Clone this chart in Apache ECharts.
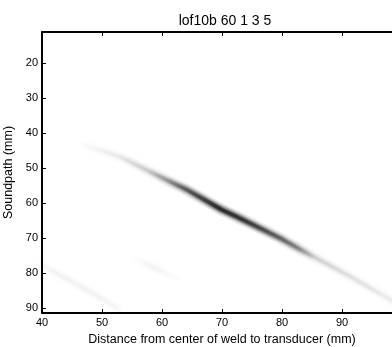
<!DOCTYPE html>
<html><head><meta charset="utf-8">
<script src="https://cdn.jsdelivr.net/npm/echarts@6/dist/echarts.min.js"></script>
<style>html,body{margin:0;padding:0;background:#fff}#c{width:392px;height:347px}</style>
</head><body><div id="c"></div>
<script>
var titleText = 'lof10b 60 1 3 5';
var xName = 'Distance from center of weld to transducer (mm)';
var yName = 'Soundpath (mm)';
var xTicks = [40, 50, 60, 70, 80, 90, 100];
var yTicks = [20, 30, 40, 50, 60, 70, 80, 90];

// main echo streak: distance, soundpath, echo level (0..1)
var mainX = [46.8, 53.0, 58.0, 61.3, 64.2, 69.7, 73.0, 79.7, 82.2, 85.2, 90.8, 97.5, 100];
var mainY = [43.3, 46.7, 51.0, 53.8, 56.2, 61.6, 64.3, 70.0, 72.4, 75.2, 80.4, 87.0, 89.3];
var mainL = [0.01, 0.06, 0.15, 0.35, 0.6, 0.92, 0.85, 0.55, 0.42, 0.14, 0.09, 0.05, 0.04];

// faint lower-left streak
var lowX = [40, 44, 48, 51.7, 53];
var lowY = [77.7, 81.5, 85.3, 89.1, 90.5];
var lowL = [0.03, 0.035, 0.035, 0.03, 0.0];

// faint middle streak
var midX = [55.0, 58.5, 62.4];
var midY = [75.4, 78.3, 81.4];
var midL = [0.0, 0.035, 0.01];

function gradient(xs, ls, k) {
  var x0 = xs[0], x1 = xs[xs.length - 1];
  var stops = xs.map(function (x, i) {
    return { offset: (x - x0) / (x1 - x0), color: 'rgba(0,0,0,' + Math.min(1, ls[i] * k).toFixed(3) + ')' };
  });
  return new echarts.graphic.LinearGradient(0, 0, 1, 0, stops);
}
function pairs(xs, ys) { return xs.map(function (x, i) { return [x, ys[i]]; }); }

var layers = [[12, 0.12], [8.5, 0.28], [5.5, 0.45], [3, 0.6]];
var series = [];
[[mainX, mainY, mainL], [lowX, lowY, lowL], [midX, midY, midL]].forEach(function (s) {
  layers.forEach(function (ly) {
    series.push({
      type: 'line', data: pairs(s[0], s[1]), symbol: 'none', smooth: 0.1, silent: true,
      clip: true, xAxisIndex: 0, yAxisIndex: 0,
      lineStyle: { width: ly[0], color: gradient(s[0], s[2], ly[1]), cap: 'round', join: 'round' }
    });
  });
});

var fontFam = '"Liberation Sans", Arial, sans-serif';
var chart = echarts.init(document.getElementById('c'), null, { renderer: 'canvas' });
chart.setOption({
  animation: false,
  backgroundColor: '#fff',
  title: { text: titleText, left: 220, top: 9, textAlign: 'center',
    textStyle: { fontFamily: fontFam, fontSize: 14, fontWeight: 'normal', color: '#000' } },
  grid: { left: 42, top: 32, bottom: 34, right: -10, containLabel: false, outerBoundsMode: 'none' },
  xAxis: [{
    type: 'value', min: 40, max: 100, position: 'bottom',
    name: xName, nameLocation: 'middle', nameGap: 20,
    nameTextStyle: { fontFamily: fontFam, fontSize: 12.5, color: '#000' },
    axisLine: { show: true, onZero: false, lineStyle: { color: '#000', width: 2 } },
    axisTick: { show: true, inside: true, length: 4, customValues: xTicks, lineStyle: { color: '#000' } },
    axisLabel: { customValues: xTicks.slice(0, 6), fontFamily: fontFam, fontSize: 11, color: '#000', margin: 4 },
    splitLine: { show: false }
  }, {
    type: 'value', min: 40, max: 100, position: 'top',
    axisLine: { show: true, onZero: false, lineStyle: { color: '#000', width: 2 } },
    axisTick: { show: true, inside: true, length: 4, customValues: xTicks, lineStyle: { color: '#000' } },
    axisLabel: { show: false }, splitLine: { show: false }
  }],
  yAxis: [{
    type: 'value', min: 11, max: 91.4, inverse: true, position: 'left',
    name: yName, nameLocation: 'middle', nameGap: 22, nameRotate: 90,
    nameTextStyle: { fontFamily: fontFam, fontSize: 12.5, color: '#000' },
    axisLine: { show: true, onZero: false, lineStyle: { color: '#000', width: 2 } },
    axisTick: { show: true, inside: true, length: 4, customValues: yTicks, lineStyle: { color: '#000' } },
    axisLabel: { customValues: yTicks, fontFamily: fontFam, fontSize: 11, color: '#000', margin: 4 },
    splitLine: { show: false }
  }],
  series: series
});
</script></body></html>
